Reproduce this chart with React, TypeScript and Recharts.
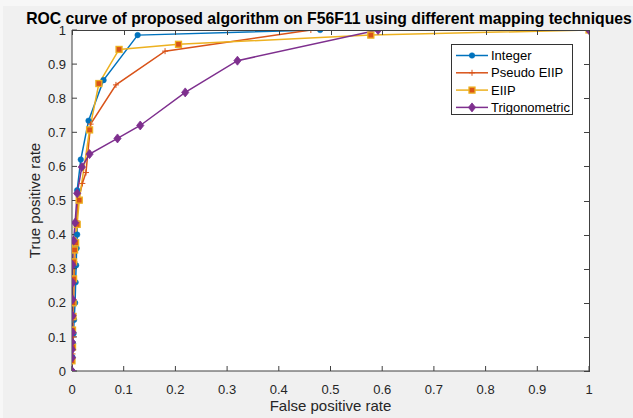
import { Line, LineChart, XAxis, YAxis } from "recharts";

type Pt = { x: number; y: number };
type DotProps = { cx?: number; cy?: number; index?: number };

const FONT = '"Liberation Sans", Arial, Helvetica, sans-serif';
const AXIS = "#404040";
const TEXT = "#262626";

const BLUE = "#0072BD";
const ORANGE = "#D95319";
const YELLOW = "#EDB120";
const PURPLE = "#7E2F8E";

// plot box edges (set through the chart margins / axis sizes below)
const PLOT_LEFT = 72;
const PLOT_TOP = 30;
const PLOT_RIGHT = 589;
const PLOT_BOTTOM = 371;
const TICK_LEN = 5;

const TITLE = "ROC curve of proposed algorithm on F56F11 using different mapping techniques";
const X_LABEL = "False positive rate";
const Y_LABEL = "True positive rate";
const SERIES_NAMES = ["Integer", "Pseudo EIIP", "EIIP", "Trigonometric"];
const TICKS = [0, 0.1, 0.2, 0.3, 0.4, 0.5, 0.6, 0.7, 0.8, 0.9, 1];

// false / true positive rates for each mapping technique
const integerFpr = [0, 0.001, 0.002, 0.003, 0.004, 0.006, 0.007, 0.008, 0.009, 0.01, 0.01, 0.017, 0.032, 0.061, 0.127, 0.48, 1];
const integerTpr = [0, 0.04, 0.08, 0.11, 0.15, 0.2, 0.26, 0.31, 0.36, 0.4, 0.53, 0.62, 0.734, 0.853, 0.985, 1, 1];

const pseudoFpr = [0, 0.001, 0.002, 0.002, 0.003, 0.004, 0.005, 0.007, 0.009, 0.012, 0.02, 0.027, 0.036, 0.085, 0.18, 0.462, 1];
const pseudoTpr = [0, 0.05, 0.1, 0.15, 0.2, 0.27, 0.32, 0.38, 0.44, 0.5, 0.55, 0.582, 0.724, 0.839, 0.938, 1, 1];

const eiipFpr = [0, 0.001, 0.001, 0.002, 0.002, 0.003, 0.003, 0.005, 0.007, 0.01, 0.014, 0.034, 0.052, 0.091, 0.206, 0.578, 1];
const eiipTpr = [0.03, 0.07, 0.12, 0.16, 0.2, 0.27, 0.32, 0.355, 0.376, 0.43, 0.501, 0.707, 0.843, 0.943, 0.958, 0.985, 1];

const trigFpr = [0, 0, 0, 0, 0.001, 0.001, 0.001, 0.001, 0.001, 0.003, 0.006, 0.01, 0.019, 0.034, 0.088, 0.132, 0.219, 0.32, 0.592, 1];
const trigTpr = [0, 0.039, 0.063, 0.085, 0.113, 0.162, 0.21, 0.259, 0.311, 0.382, 0.435, 0.521, 0.598, 0.636, 0.682, 0.72, 0.817, 0.91, 1, 1];

const zip = (xs: number[], ys: number[]): Pt[] => xs.map((x, i) => ({ x, y: ys[i] }));

const integerData = zip(integerFpr, integerTpr);
const pseudoData = zip(pseudoFpr, pseudoTpr);
const eiipData = zip(eiipFpr, eiipTpr);
const trigData = zip(trigFpr, trigTpr);

function circleMark(cx: number, cy: number) {
  return <circle cx={cx} cy={cy} r={2.8} fill={BLUE} stroke={BLUE} strokeWidth={0.5} />;
}
function plusMark(cx: number, cy: number) {
  return <path d={`M${cx - 3},${cy}h6M${cx},${cy - 3}v6`} stroke={ORANGE} strokeWidth={1} fill="none" />;
}
function squareMark(cx: number, cy: number) {
  return <rect x={cx - 3} y={cy - 3} width={6} height={6} fill={ORANGE} stroke={YELLOW} strokeWidth={1.3} />;
}
function diamondMark(cx: number, cy: number) {
  return (
    <polygon
      points={`${cx},${cy - 4.5} ${cx + 3.6},${cy} ${cx},${cy + 4.5} ${cx - 3.6},${cy}`}
      fill={PURPLE}
      stroke={PURPLE}
      strokeWidth={0.8}
    />
  );
}

const MARKS = [circleMark, plusMark, squareMark, diamondMark];
const COLORS = [BLUE, ORANGE, YELLOW, PURPLE];

function makeDot(mark: (cx: number, cy: number) => React.ReactElement) {
  return function Dot(props: DotProps) {
    if (props.cx == null || props.cy == null) return <g key={props.index} />;
    return <g key={props.index}>{mark(props.cx, props.cy)}</g>;
  };
}

function YLabel(props: { viewBox?: { x: number; y: number; height: number } }) {
  const vb = props.viewBox ?? { x: 0, y: PLOT_TOP, height: PLOT_BOTTOM - PLOT_TOP };
  const cy = vb.y + vb.height / 2;
  return (
    <text x={40} y={cy} transform={`rotate(-90 40 ${cy})`} textAnchor="middle" fontFamily={FONT} fontSize={15} fill={TEXT}>
      {Y_LABEL}
    </text>
  );
}

function TitleBar() {
  return (
    <svg width={633} height={30} style={{ position: "absolute", left: 0, top: 0 }}>
      <text x={329} y={24} textAnchor="middle" fontFamily={FONT} fontSize={15.75} fontWeight={700} fill="#000">
        {TITLE}
      </text>
    </svg>
  );
}

// top and right edges of the box with their inward ticks, drawn over the chart
function BoxEdges() {
  const w = PLOT_RIGHT - PLOT_LEFT;
  const h = PLOT_BOTTOM - PLOT_TOP;
  return (
    <svg
      width={633}
      height={418}
      shapeRendering="crispEdges"
      style={{ position: "absolute", left: 0, top: 0, pointerEvents: "none" }}
    >
      <line x1={PLOT_LEFT} x2={PLOT_RIGHT + 1} y1={PLOT_TOP + 0.5} y2={PLOT_TOP + 0.5} stroke={AXIS} strokeWidth={1} />
      <line x1={PLOT_RIGHT + 0.5} x2={PLOT_RIGHT + 0.5} y1={PLOT_TOP} y2={PLOT_BOTTOM + 1} stroke={AXIS} strokeWidth={1} />
      {TICKS.map((t) => {
        const x = Math.round(PLOT_LEFT + t * w) + 0.5;
        const y = Math.round(PLOT_BOTTOM - t * h) + 0.5;
        return (
          <g key={t}>
            <line x1={x} x2={x} y1={PLOT_TOP} y2={PLOT_TOP + TICK_LEN} stroke={AXIS} strokeWidth={1} />
            <line x1={PLOT_RIGHT - TICK_LEN} x2={PLOT_RIGHT} y1={y} y2={y} stroke={AXIS} strokeWidth={1} />
          </g>
        );
      })}
    </svg>
  );
}

function LegendBox() {
  return (
    <div
      style={{
        position: "absolute",
        left: 451,
        top: 44,
        width: 122,
        height: 71,
        background: "#fff",
        border: "1px solid #333",
        boxSizing: "border-box",
      }}
    >
      <svg width={120} height={69} style={{ display: "block" }}>
        {SERIES_NAMES.map((name, i) => {
          const y = 10.5 + i * 17.3;
          return (
            <g key={name}>
              <line x1={4} x2={36} y1={y} y2={y} stroke={COLORS[i]} strokeWidth={1.5} />
              {MARKS[i](20, y)}
              <text x={39} y={y + 4.6} fontFamily={FONT} fontSize={13} fill="#000">
                {name}
              </text>
            </g>
          );
        })}
      </svg>
    </div>
  );
}

export default function App() {
  const seriesData = [integerData, pseudoData, eiipData, trigData];
  return (
    <div style={{ position: "relative", width: 633, height: 418, background: "#f7f7f7" }}>
      <style>{`body{margin:0}`}</style>
      <div style={{ position: "absolute", left: 3, top: 6, right: 0, bottom: 0, background: "#f0f0f0" }} />
      {/* white axes area */}
      <div
        style={{
          position: "absolute",
          left: PLOT_LEFT,
          top: PLOT_TOP,
          width: PLOT_RIGHT - PLOT_LEFT,
          height: PLOT_BOTTOM - PLOT_TOP,
          background: "#fff",
        }}
      />
      <div style={{ position: "absolute", left: 0, top: 0 }}>
        <LineChart width={633} height={418} margin={{ top: PLOT_TOP, right: 633 - PLOT_RIGHT, bottom: 0, left: 0 }}>
          <XAxis
            type="number"
            dataKey="x"
            domain={[0, 1]}
            ticks={TICKS}
            height={418 - PLOT_BOTTOM}
            tickSize={-TICK_LEN}
            tickMargin={19}
            axisLine={{ stroke: AXIS }}
            tickLine={{ stroke: AXIS }}
            tick={{ fill: TEXT, fontSize: 13, fontFamily: FONT }}
            label={{ value: X_LABEL, position: "insideBottom", offset: 7, fill: TEXT, fontSize: 15, fontFamily: FONT }}
            allowDataOverflow
          />
          <YAxis
            type="number"
            domain={[0, 1]}
            ticks={TICKS}
            width={PLOT_LEFT}
            tickSize={-TICK_LEN}
            tickMargin={11}
            axisLine={{ stroke: AXIS }}
            tickLine={{ stroke: AXIS }}
            tick={{ fill: TEXT, fontSize: 13, fontFamily: FONT }}
            label={<YLabel />}
            allowDataOverflow
          />
          {seriesData.map((data, i) => (
            <Line
              key={SERIES_NAMES[i]}
              data={data}
              dataKey="y"
              name={SERIES_NAMES[i]}
              type="linear"
              stroke={COLORS[i]}
              strokeWidth={1.5}
              dot={makeDot(MARKS[i])}
              activeDot={false}
              isAnimationActive={false}
            />
          ))}
        </LineChart>
      </div>
      <BoxEdges />
      <TitleBar />
      <LegendBox />
    </div>
  );
}
